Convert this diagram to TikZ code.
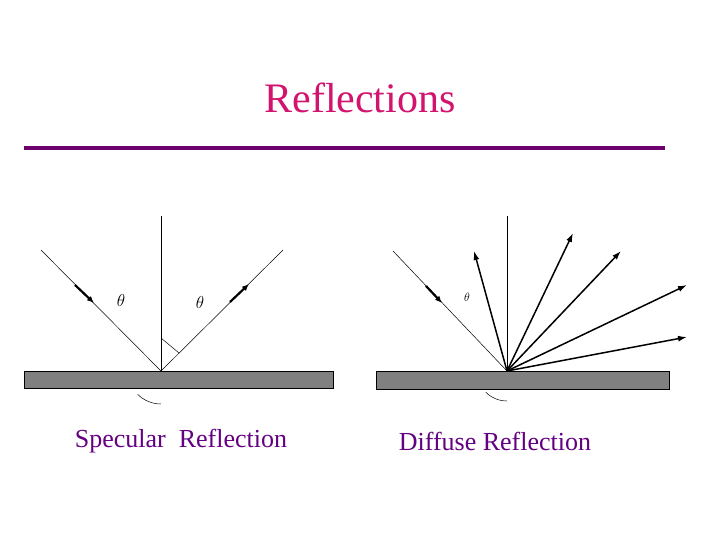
\documentclass[tikz,border=0pt]{standalone}
\usepackage{fontspec}
\setmainfont{Liberation Serif}
\usetikzlibrary{arrows.meta}
\definecolor{ttl}{RGB}{210,20,110}
\definecolor{pur}{RGB}{110,0,110}
\definecolor{lab}{RGB}{100,0,130}
\begin{document}
\begin{tikzpicture}[x=1pt,y=-1pt,
  surf/.style={fill=black!50,draw=black,line width=0.6pt},
  ray/.style={line width=0.5pt},
  dirarrow/.style={line width=2.2pt,-{Latex[length=7pt,width=6pt]}},
  outarrow/.style={line width=1.5pt,-{Latex[length=9pt,width=6pt]}},
  captxt/.style={font=\fontsize{26}{30}\selectfont,text=lab}]
\useasboundingbox (0,0) rectangle (720,540);
\node[font=\fontsize{42}{48}\selectfont,text=ttl] (title) at (360,98) {Reflections};
\coordinate (l1) at (24,148); \coordinate (l2) at (665,148);
\draw[pur,line width=4pt] (l1) -- (l2);
% specular
\draw[surf] (24,371) rectangle (333,388);
\coordinate (p) at (161,371);
\coordinate (n1) at (161,216);
\coordinate (i1) at (41,250);
\coordinate (r1) at (283,250);
\draw[ray] (n1) -- (p);
\draw[ray] (i1) -- (p) -- (r1);
\coordinate (a1) at (75,285); \coordinate (a2) at (94,303);
\draw[dirarrow] (a1) -- (a2);
\coordinate (b1) at (230,302); \coordinate (b2) at (249,284);
\draw[dirarrow] (b1) -- (b2);
\draw[ray] (p) ++(135:33) arc[start angle=135,end angle=90,radius=33];
\draw[ray] (161,338) -- (179,353);
\node[font=\fontsize{18}{20}\selectfont] (t1) at (121,300) {$\theta$};
\node[font=\fontsize{18}{20}\selectfont] (t2) at (200,302) {$\theta$};
\node[captxt] (c1) at (181,441) {Specular\ \ Reflection};
% diffuse
\draw[surf] (376,371) rectangle (669,389);
\coordinate (q) at (507,371);
\coordinate (m1) at (507,216);
\coordinate (j1) at (393,251);
\draw[ray] (m1) -- (q);
\draw[ray] (j1) -- (q);
\coordinate (d1) at (426,286); \coordinate (d2) at (442,303);
\draw[dirarrow] (d1) -- (d2);
\draw[ray] (q) ++(135:30) arc[start angle=135,end angle=90,radius=30];
\node[font=\fontsize{12}{14}\selectfont] (t3) at (467,297) {$\theta$};
\foreach \n/\x/\y in {o1/474/251,o2/573/233,o3/621/251,o4/687/285,o5/687/337}{
  \coordinate (\n) at (\x,\y);
  \draw[outarrow] (q) -- (\n);
}
\node[captxt] (c2) at (495,441) {Diffuse Reflection};
\end{tikzpicture}
\end{document}
